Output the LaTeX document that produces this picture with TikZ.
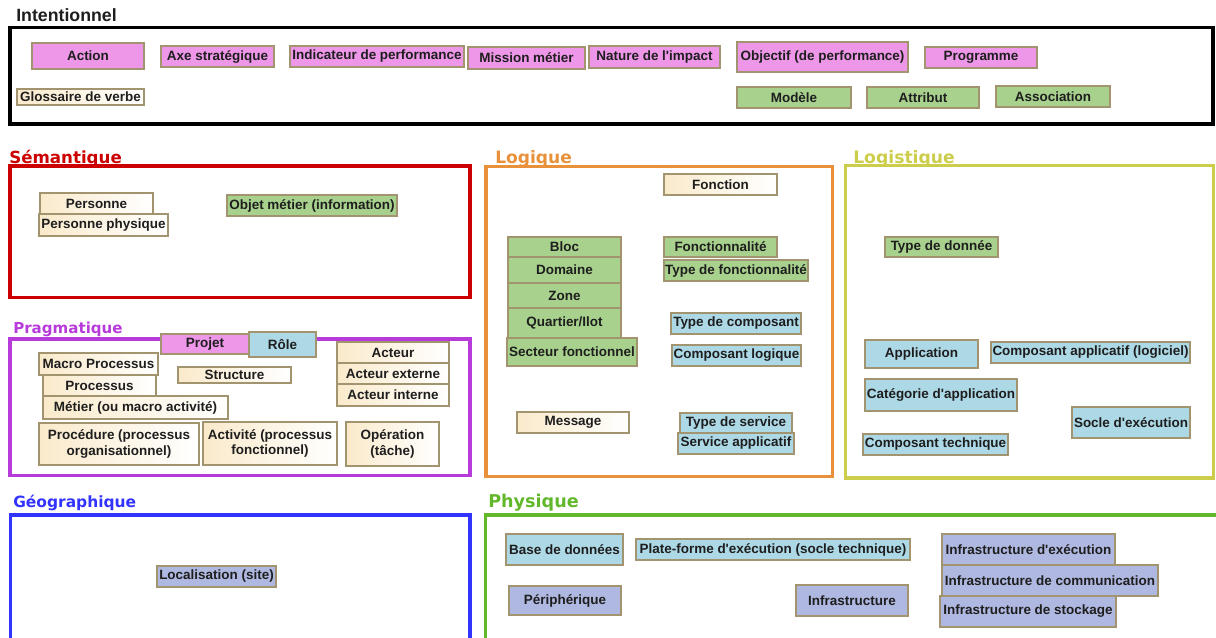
\documentclass[tikz,border=0pt]{standalone}
\usepackage{fontspec}
\setmainfont{Liberation Sans}[Ligatures=TeXOff]
\newfontfamily\dvfont{DejaVu Sans}[Ligatures=TeXOff]
\definecolor{pinkc}{HTML}{EE96E8}
\definecolor{greenc}{HTML}{A8D18D}
\definecolor{creamc}{HTML}{FAEACB}
\definecolor{bluec}{HTML}{ADD8E6}
\definecolor{lavc}{HTML}{AFB8E0}
\definecolor{bordc}{HTML}{A39470}
\definecolor{txtc}{HTML}{1E1E1E}
\definecolor{redc}{HTML}{CC0000}
\definecolor{purc}{HTML}{B73BDB}
\definecolor{orac}{HTML}{E8913A}
\definecolor{olic}{HTML}{CDCD4C}
\definecolor{bluf}{HTML}{3333FF}
\definecolor{grnf}{HTML}{62B82A}
\newcommand\bx[7]{\node[#1, minimum width={(#5-#3)*0.75pt}, minimum height={(#6-#4)*0.75pt}] (#2) at ({(#3+#5)/2},{(#4+#6)/2}) {#7};}
\newcommand\tsz[1]{\dvfont\fontsize{#1}{#1}\selectfont\bfseries}
\tikzset{
  box/.style={draw=bordc, line width=1pt, inner sep=0pt, text=txtc, align=center,
    font=\fontsize{10.1}{11.4}\selectfont\bfseries},
  pk/.style={box, fill=pinkc},
  gr/.style={box, fill=greenc},
  cr/.style={box, left color=creamc, right color=white},
  bl/.style={box, fill=bluec},
  lv/.style={box, fill=lavc},
  frame/.style={draw=#1, line width=2.5pt, inner sep=0pt},
  ttl/.style={anchor=base west, inner sep=0pt, text=#1, font=\tsz{12.5}},
}
\begin{document}
\begin{tikzpicture}[x=0.75pt,y=-0.75pt]
\useasboundingbox (0,0) rectangle (1216,637);
\begin{scope}
\clip (0,0) rectangle (1216,637);
% Frames
\bx{frame=black}{fint}{10}{27.5}{1213}{124}{}
\bx{frame=redc}{fsem}{10}{166}{470}{297.5}{}
\bx{frame=purc}{fpra}{10}{339}{470}{475.5}{}
\bx{frame=orac}{flog}{486}{166.5}{832.5}{476.5}{}
\bx{frame=olic}{flgs}{845.5}{165.5}{1213.5}{478}{}
\bx{frame=bluf}{fgeo}{10.5}{515}{470}{660}{}
\bx{frame=grnf}{fphy}{485.5}{515}{1240}{660}{}
\end{scope}
% Titles
\node[ttl=txtc, font=\fontsize{13.3}{15}\selectfont\bfseries] (tint) at (16,21) {Intentionnel};
\node[ttl=redc] (tsem) at (9,163) {Sémantique};
\node[ttl=purc, font=\tsz{11.3}] (tpra) at (13,333) {Pragmatique};
\node[ttl=orac, font=\tsz{12.8}] (tlog) at (495,163) {Logique};
\node[ttl=olic, font=\tsz{12.9}] (tlgs) at (853,163) {Logistique};
\node[ttl=bluf, font=\tsz{11.6}] (tgeo) at (13,507) {Géographique};
\node[ttl=grnf, font=\tsz{13.2}] (tphy) at (488,507) {Physique};
% Intentionnel
\bx{pk}{action}{32}{43}{144}{69}{Action}
\bx{pk}{axe}{161}{46}{274}{67}{Axe stratégique}
\bx{pk}{indic}{290}{46}{464}{67}{Indicateur de performance}
\bx{pk}{mission}{468}{47}{585}{69}{Mission métier}
\bx{pk}{nature}{589}{46}{720}{68}{Nature de l'impact}
\bx{pk}{objectif}{737}{42}{908}{72}{Objectif (de performance)}
\bx{pk}{programme}{925}{47}{1037}{68}{Programme}
\bx{cr}{glossaire}{17}{89}{144}{105}{Glossaire de verbe}
\bx{gr}{modele}{737}{87}{851}{108}{Modèle}
\bx{gr}{attribut}{867}{87}{979}{108}{Attribut}
\bx{gr}{association}{996}{86}{1110}{107}{Association}
% Semantique
\bx{cr}{personne}{40}{193}{153}{214}{Personne}
\bx{cr}{persphys}{39}{214}{168}{236}{Personne physique}
\bx{gr}{objet}{227}{195}{397}{216}{Objet métier (information)}
% Pragmatique
\bx{pk}{projet}{161}{334}{249}{354}{Projet}
\bx{bl}{role}{249}{332}{316}{357}{Rôle}
\bx{cr}{processus}{43}{375}{156}{396}{Processus}
\bx{cr}{macro}{39}{353}{158}{375}{Macro Processus}
\bx{cr}{metier}{43}{396}{228}{419}{Métier (ou macro activité)}
\bx{cr}{structure}{178}{367}{291}{383}{Structure}
\bx{cr}{acteur}{337}{342}{449}{363}{Acteur}
\bx{cr}{actext}{337}{363}{449}{384}{Acteur externe}
\bx{cr}{actint}{337}{384}{449}{406}{Acteur interne}
\bx{cr}{procedure}{39}{423}{199}{465}{Procédure (processus\\organisationnel)}
\bx{cr}{activite}{203}{422}{337}{465}{Activité (processus\\fonctionnel)}
\bx{cr}{operation}{346}{422}{439}{466}{Opération\\(tâche)}
% Logique
\bx{cr}{fonction}{664}{174}{777}{195}{Fonction}
\bx{gr}{bloc}{508}{237}{621}{257}{Bloc}
\bx{gr}{domaine}{508}{257}{621}{283}{Domaine}
\bx{gr}{zone}{508}{283}{621}{308}{Zone}
\bx{gr}{quartier}{508}{308}{621}{338}{Quartier/Ilot}
\bx{gr}{secteur}{507}{338}{637}{366}{Secteur fonctionnel}
\bx{gr}{fonctionnalite}{664}{237}{777}{257}{Fonctionnalité}
\bx{gr}{typefonc}{664}{260}{808}{281}{Type de fonctionnalité}
\bx{bl}{typecomp}{671}{313}{801}{334}{Type de composant}
\bx{bl}{complog}{672}{345}{801}{366}{Composant logique}
\bx{cr}{message}{517}{412}{629}{433}{Message}
\bx{bl}{typeserv}{680}{413}{792}{433}{Type de service}
\bx{bl}{servapp}{678}{433}{794}{454}{Service applicatif}
% Logistique
\bx{gr}{typedon}{885}{237}{998}{257}{Type de donnée}
\bx{bl}{application}{865}{340}{978}{368}{Application}
\bx{bl}{compapp}{991}{342}{1190}{363}{Composant applicatif (logiciel)}
\bx{bl}{catapp}{865}{379}{1017}{411}{Catégorie d'application}
\bx{bl}{socle}{1072}{407}{1190}{438}{Socle d'exécution}
\bx{bl}{comptech}{863}{434}{1008}{455}{Composant technique}
% Geographique
\bx{lv}{localisation}{157}{566}{276}{587}{Localisation (site)}
% Physique
\bx{bl}{basedon}{506}{534}{623}{565}{Base de données}
\bx{bl}{plateforme}{636}{539}{910}{560}{Plate-forme d'exécution (socle technique)}
\bx{lv}{infraexec}{942}{534}{1115}{565}{Infrastructure d'exécution}
\bx{lv}{infracom}{942}{565}{1158}{596}{Infrastructure de communication}
\bx{lv}{infrasto}{940}{596}{1116}{627}{Infrastructure de stockage}
\bx{lv}{peripherique}{509}{586}{621}{615}{Périphérique}
\bx{lv}{infra}{796}{585}{908}{616}{Infrastructure}
\end{tikzpicture}
\end{document}
